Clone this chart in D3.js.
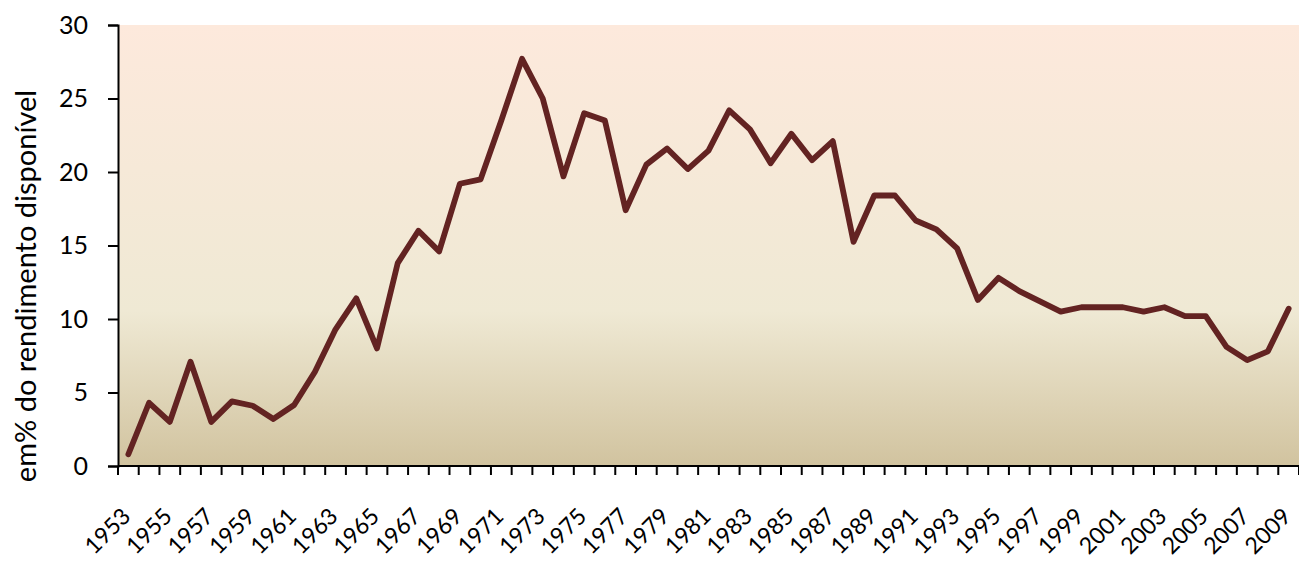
<!DOCTYPE html>
<html>
<head>
<meta charset="utf-8">
<script src="https://cdn.jsdelivr.net/npm/d3@7"></script>
<style>
  body { margin: 0; background: #fff; }
  svg text { font-family: Lato, "Open Sans", sans-serif; fill: #000; }
</style>
</head>
<body>
<div id="chart"></div>
<script>
// data
const years = d3.range(1953, 2010);
const values = [
  0.8, 4.3, 3.0, 7.1, 3.0, 4.4, 4.1, 3.2, 4.15, 6.4,
  9.3, 11.4, 8.0, 13.8, 16.0, 14.6, 19.2, 19.5, 23.5, 27.7,
  25.0, 19.7, 24.0, 23.5, 17.4, 20.5, 21.6, 20.2, 21.45, 24.2,
  22.9, 20.6, 22.6, 20.8, 22.1, 15.25, 18.4, 18.4, 16.7, 16.1,
  14.8, 11.3, 12.8, 11.9, 11.2, 10.5, 10.8, 10.8, 10.8, 10.5,
  10.8, 10.2, 10.2, 8.1, 7.2, 7.8, 10.7
];
const yTicks = [0, 5, 10, 15, 20, 25, 30];
const yLabel = 'em% do rendimento disponível';

const W = 1299, H = 562;
const margin = {top: 25, right: 0, bottom: 96, left: 118};
const width = W - margin.left - margin.right;
const height = H - margin.top - margin.bottom;

const svg = d3.select('#chart')
  .append('svg')
  .attr('width', W)
  .attr('height', H);

const defs = svg.append('defs');
const grad = defs.append('linearGradient')
  .attr('id', 'bg')
  .attr('x1', 0).attr('y1', 0).attr('x2', 0).attr('y2', 1);
grad.append('stop').attr('offset', '0%').attr('stop-color', '#fde9dc');
grad.append('stop').attr('offset', '65%').attr('stop-color', '#efe9d4');
grad.append('stop').attr('offset', '100%').attr('stop-color', '#d1c39f');

const g = svg.append('g')
  .attr('transform', 'translate(' + margin.left + ',' + margin.top + ')');

const x = d3.scaleBand()
  .domain(years)
  .range([0, width]);

const y = d3.scaleLinear()
  .domain([0, 30])
  .range([height, 0]);

g.append('rect')
  .attr('width', width)
  .attr('height', height)
  .attr('fill', 'url(#bg)');

// y axis
const yAxis = g.append('g')
  .call(d3.axisLeft(y).tickValues(yTicks).tickSize(10).tickPadding(20));
yAxis.select('.domain').attr('stroke', '#000').attr('stroke-width', 2);
yAxis.selectAll('.tick line').attr('stroke', '#000').attr('stroke-width', 2);
yAxis.selectAll('.tick text').style('font-size', '25px');

// x axis: ticks on category boundaries, labels on odd years
const xAxis = g.append('g')
  .attr('transform', 'translate(0,' + height + ')');
xAxis.append('line')
  .attr('x1', 0).attr('x2', width)
  .attr('stroke', '#000').attr('stroke-width', 2);
xAxis.selectAll('line.tk')
  .data(years.concat([null]))
  .enter()
  .append('line')
  .attr('class', 'tk')
  .attr('x1', (d, i) => i * x.step())
  .attr('x2', (d, i) => i * x.step())
  .attr('y1', 0).attr('y2', 9)
  .attr('stroke', '#000').attr('stroke-width', 2);
xAxis.selectAll('text')
  .data(years.filter(d => d % 2 === 1))
  .enter()
  .append('text')
  .attr('transform', d => 'translate(' + (x(d) + x.bandwidth() / 2 - 2) + ',46) rotate(-45)')
  .attr('text-anchor', 'end')
  .attr('dy', '0.35em')
  .style('font-size', '23px')
  .text(d => d);

// y label
svg.append('text')
  .attr('transform', 'translate(36,286) rotate(-90)')
  .attr('text-anchor', 'middle')
  .style('font-size', '29px')
  .text(yLabel);

// line
const line = d3.line()
  .x((d, i) => x(years[i]) + x.bandwidth() / 2)
  .y(d => y(d));

g.append('path')
  .datum(values)
  .attr('fill', 'none')
  .attr('stroke', '#632322')
  .attr('stroke-width', 5.8)
  .attr('stroke-linejoin', 'round')
  .attr('stroke-linecap', 'round')
  .attr('d', line);
</script>
</body>
</html>
